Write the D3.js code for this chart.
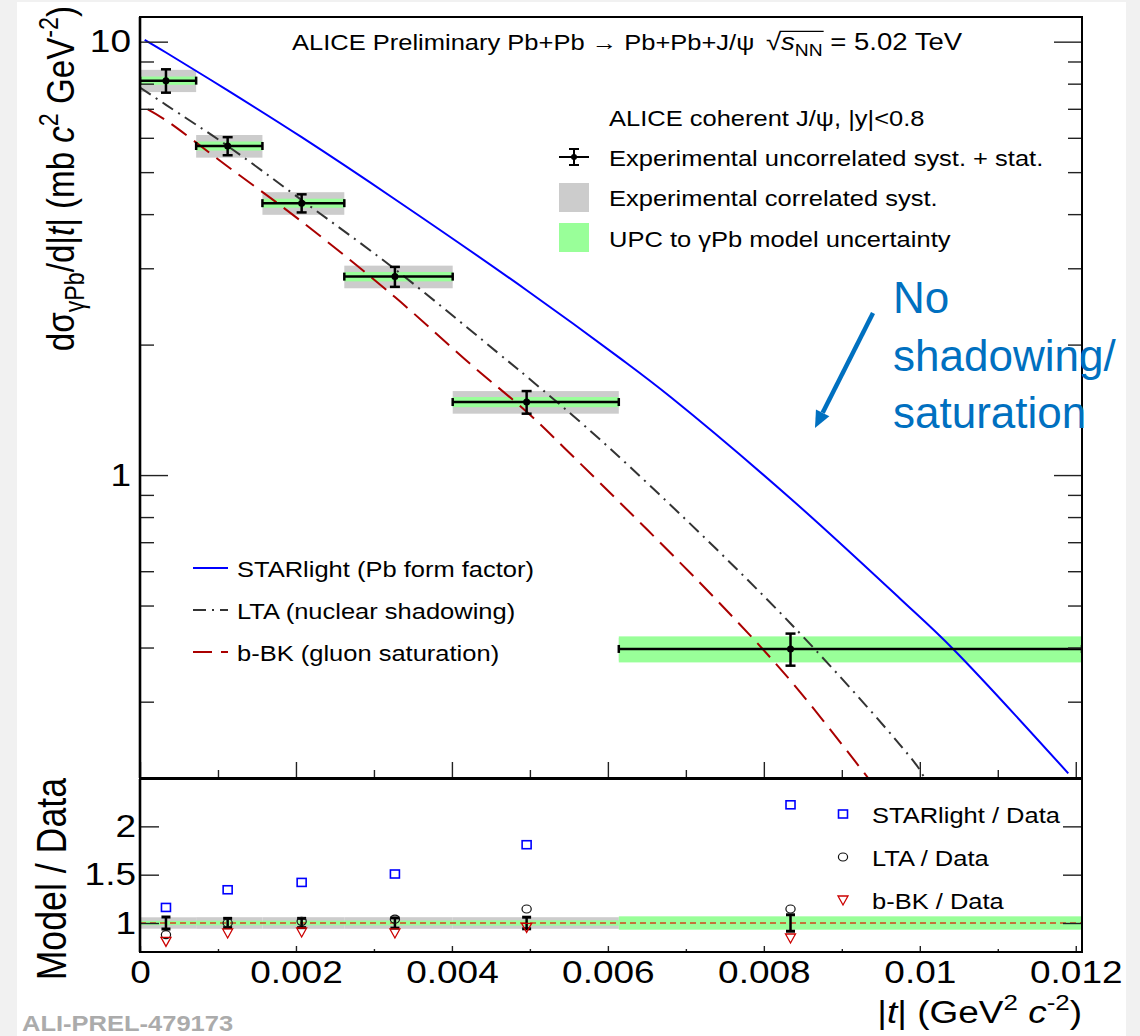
<!DOCTYPE html>
<html>
<head>
<meta charset="utf-8">
<title>Coherent J/psi photoproduction vs |t|</title>
<script src="https://cdn.jsdelivr.net/npm/d3@7"></script>
<style>
  html, body { margin: 0; padding: 0; background: #f1f1f1; }
  svg { display: block; }
  text { font-family: "Liberation Sans", Arial, Helvetica, sans-serif; white-space: pre; }
</style>
</head>
<body>
<svg id="chart" width="1140" height="1036"></svg>
<script>
// ---------------- data ----------------
// |t| bins (GeV^2 c^-2): mean |t| of each bin and the bin edges
const tMean = [0.000333, 0.001124, 0.002073, 0.003269, 0.004958, 0.008342];
const tLow  = [0.0,      0.00072,  0.00157,  0.00262,  0.00401,  0.00614];
const tHigh = [0.00072,  0.00157,  0.00262,  0.00401,  0.00614,  0.01208];

// measured dsigma/d|t| (mb c^2 GeV^-2) and relative uncertainties
const sigma     = [8.13, 5.745, 4.24, 2.87, 1.474, 0.397];
const uncorrErr = [0.062, 0.048, 0.048, 0.053, 0.060, 0.085];
const corrSyst  = [0.059, 0.060, 0.060, 0.060, 0.060, 0.060];
const modelUnc  = [0.022, 0.024, 0.024, 0.025, 0.027, 0.069];

// model predictions
const starT = [0.00006, 0.000333, 0.001124, 0.002073, 0.003269, 0.004958, 0.00615, 0.0068, 0.008342, 0.009765, 0.010427, 0.011904];
const starV = [10.1,    9.44,     7.72,     6.02,     4.33,     2.67,     1.864,   1.516,  0.883,    0.515,    0.397,    0.205];
const ltaT  = [0.0,  0.000333, 0.001124, 0.002073, 0.003269, 0.004701, 0.004958, 0.006026, 0.008342, 0.009958, 0.01006];
const ltaV  = [7.84, 7.15,     5.745,    4.31,     2.985,    1.843,    1.688,    1.152,    0.4546,   0.2141,   0.2];
const bbkT  = [0.0001, 0.000333, 0.001124, 0.002073, 0.003269, 0.004252, 0.004958, 0.005449, 0.007394, 0.008342, 0.009337];
const bbkV  = [6.98,   6.585,    5.153,    3.846,    2.574,    1.794,    1.40,     1.152,    0.515,    0.3355,   0.2];

// model / data ratios at the bin means
const ratioStar = [1.161, 1.344, 1.420, 1.507, 1.810, 2.223];
const ratioLta  = [0.879, 1.000, 1.017, 1.040, 1.145, 1.145];
const ratioBbk  = [0.810, 0.897, 0.907, 0.897, 0.955, 0.845];

// axis ticks
const xMajor  = [0, 0.002, 0.004, 0.006, 0.008, 0.01, 0.012];
const xMinor  = [0.001, 0.003, 0.005, 0.007, 0.009, 0.011];
const xLabels = ["0", "0.002", "0.004", "0.006", "0.008", "0.01", "0.012"];
const yMajor  = [1, 10];
const yMinor  = [0.2, 0.3, 0.4, 0.5, 0.6, 0.7, 0.8, 0.9, 2, 3, 4, 5, 6, 7, 8, 9];
const rMajor  = [1, 1.5, 2];

// ---------------- layout ----------------
const L = 140, R = 1082;          // plot frame left / right
const T = 17,  B = 778;           // upper pad frame
const RT = 779, RB = 952;         // ratio pad frame
const SQ = 0.85;                  // vertical text compression
const FONT_TICK = 37, FONT_LEG = 25.5;

const svg = d3.select("#chart");
svg.append("rect").attr("x", 17).attr("y", 2).attr("width", 1109).attr("height", 1034).attr("fill", "#fff");

const x  = d3.scaleLinear().domain([0, 0.01208]).range([L, R]);
const y  = d3.scaleLog().domain([0.2, 11.4]).range([B, T]);
const yr = d3.scaleLinear().domain([0.7, 2.49]).range([RB, RT]);

const defs = svg.append("defs");
defs.append("clipPath").attr("id", "clipTop").append("rect")
  .attr("x", L).attr("y", T).attr("width", R - L).attr("height", B - T);
defs.append("clipPath").attr("id", "clipRatio").append("rect")
  .attr("x", L).attr("y", RT).attr("width", R - L).attr("height", RB - RT);

// text with italic / sub / superscript pieces
function rich(parent, px, py, size, anchor, segs, rotate) {
  const t = parent.append("text")
    .attr("transform", `translate(${px},${py}) scale(1,${SQ})${rotate ? " rotate(-90)" : ""}`)
    .attr("text-anchor", anchor).attr("font-size", size).style("fill", "#000");
  let cur = 0;
  for (const s of segs) {
    const seg = typeof s === "string" ? { t: s } : s;
    const off = seg.sub ? 0.25 * size : seg.sup ? -0.42 * size : 0;
    const ts = t.append("tspan").attr("dy", off - cur).text(seg.t);
    cur = off;
    if (seg.sub || seg.sup) ts.attr("font-size", 0.7 * size);
    if (seg.it) ts.attr("font-style", "italic");
  }
  return t;
}

const bins = d3.range(tMean.length);

// ================= upper pad =================
const upper = svg.append("g");

// correlated systematic boxes
upper.append("g").attr("clip-path", "url(#clipTop)").selectAll("rect").data(bins).join("rect")
  .attr("x", i => x(tLow[i])).attr("width", i => x(tHigh[i]) - x(tLow[i]))
  .attr("y", i => y(sigma[i] * (1 + corrSyst[i])))
  .attr("height", i => y(sigma[i] * (1 - corrSyst[i])) - y(sigma[i] * (1 + corrSyst[i])))
  .attr("fill", "#cccccc");
// UPC -> gamma Pb model uncertainty boxes
upper.append("g").attr("clip-path", "url(#clipTop)").selectAll("rect").data(bins).join("rect")
  .attr("x", i => x(tLow[i])).attr("width", i => x(tHigh[i]) - x(tLow[i]))
  .attr("y", i => y(sigma[i] * (1 + modelUnc[i])))
  .attr("height", i => y(sigma[i] * (1 - modelUnc[i])) - y(sigma[i] * (1 + modelUnc[i])))
  .attr("fill", "#99ff99");

// model curves
const line = d3.line().x(d => x(d[0])).y(d => y(d[1])).curve(d3.curveCatmullRom.alpha(0.5));
const curves = upper.append("g").attr("clip-path", "url(#clipTop)").attr("fill", "none");
const modelStyles = [
  { t: starT, v: starV, color: "#0000ff", dash: null },
  { t: ltaT,  v: ltaV,  color: "#333333", dash: "13,6,2,6" },
  { t: bbkT,  v: bbkV,  color: "#aa0000", dash: "19,9" }
];
modelStyles.forEach(m => {
  curves.append("path").datum(d3.zip(m.t, m.v)).attr("d", line)
    .attr("stroke", m.color).attr("stroke-width", 2)
    .attr("stroke-dasharray", m.dash);
});

// data points with uncorrelated syst + stat errors
const pts = upper.append("g").attr("clip-path", "url(#clipTop)").attr("stroke", "#000").attr("stroke-width", 2.5);
bins.forEach(i => {
  const cx = x(tMean[i]), cy = y(sigma[i]);
  const yHi = y(sigma[i] * (1 + uncorrErr[i])), yLo = y(sigma[i] * (1 - uncorrErr[i]));
  const xa = x(tLow[i]), xb = x(tHigh[i]);
  pts.append("line").attr("x1", xa).attr("x2", xb).attr("y1", cy).attr("y2", cy);
  pts.append("line").attr("x1", xa).attr("x2", xa).attr("y1", cy - 4).attr("y2", cy + 4);
  pts.append("line").attr("x1", xb).attr("x2", xb).attr("y1", cy - 4).attr("y2", cy + 4);
  pts.append("line").attr("x1", cx).attr("x2", cx).attr("y1", yHi).attr("y2", yLo);
  pts.append("line").attr("x1", cx - 5).attr("x2", cx + 5).attr("y1", yHi).attr("y2", yHi);
  pts.append("line").attr("x1", cx - 5).attr("x2", cx + 5).attr("y1", yLo).attr("y2", yLo);
  pts.append("circle").attr("cx", cx).attr("cy", cy).attr("r", 3.5).attr("fill", "#000").attr("stroke", "none");
});

// axes of the upper pad
function styleAxis(g) {
  g.select(".domain").remove();
  g.selectAll(".tick line").attr("stroke", "#222").attr("stroke-width", 1.4);
}
function styleLabels(g) {
  g.selectAll("text").attr("font-size", FONT_TICK).attr("font-family", null)
    .style("fill", "#000").attr("transform", `scale(1,${SQ})`);
}
upper.append("g").attr("transform", `translate(${L},0)`)
  .call(d3.axisLeft(y).tickValues(yMinor).tickSize(-14).tickFormat("")).call(styleAxis);
upper.append("g").attr("transform", `translate(${L},0)`)
  .call(d3.axisLeft(y).tickValues(yMajor).tickSize(-28).tickPadding(9).tickFormat(d3.format("d")))
  .call(styleAxis).call(styleLabels);
upper.append("g").attr("transform", `translate(${R},0)`)
  .call(d3.axisRight(y).tickValues(yMinor).tickSize(-14).tickFormat("")).call(styleAxis);
upper.append("g").attr("transform", `translate(${R},0)`)
  .call(d3.axisRight(y).tickValues(yMajor).tickSize(-28).tickFormat("")).call(styleAxis);
upper.append("g").attr("transform", `translate(0,${B})`)
  .call(d3.axisBottom(x).tickValues(xMinor).tickSize(-8).tickFormat("")).call(styleAxis);
upper.append("g").attr("transform", `translate(0,${B})`)
  .call(d3.axisBottom(x).tickValues(xMajor).tickSize(-16).tickFormat("")).call(styleAxis);

upper.append("rect").attr("x", L).attr("y", T).attr("width", R - L).attr("height", B - T)
  .attr("fill", "none").attr("stroke", "#000").attr("stroke-width", 2);
upper.append("line").attr("x1", L).attr("x2", L).attr("y1", T).attr("y2", B)
  .attr("stroke", "#000").attr("stroke-width", 2.6);

// y-axis title
rich(upper, 74, 6, 39, "end", [
  "dσ", { t: "γPb", sub: true }, "/d|", { t: "t", it: true }, "| (mb ",
  { t: "c", it: true }, { t: "2", sup: true }, " GeV", { t: "-2", sup: true }, ")"
], true);

// header line
const head = upper.append("g");
rich(head, 292, 50, FONT_LEG, "start", ["ALICE Preliminary Pb+Pb → Pb+Pb+J/ψ"]);
const HEAD2 = 27.5, radX = 766;
const rad = rich(head, radX, 50, HEAD2, "start", ["√"]);
const radW = rad.node().getComputedTextLength();
const sPart = rich(head, radX + radW, 50, HEAD2, "start", [{ t: "s", it: true }, { t: "NN", sub: true }]);
const sW = sPart.node().getComputedTextLength();
head.append("line").attr("x1", radX + radW - 1.5).attr("x2", radX + radW + sW + 1)
  .attr("y1", 50 - 0.8 * HEAD2 * SQ).attr("y2", 50 - 0.8 * HEAD2 * SQ)
  .attr("stroke", "#000").attr("stroke-width", 1.2);
rich(head, radX + radW + sW, 50, HEAD2, "start", [" = 5.02 TeV"]);

// data legend (upper right)
const leg = upper.append("g");
const legX = 609, boxL = 559, boxR = 589;
rich(leg, legX, 126, FONT_LEG, "start", ["ALICE coherent J/ψ, |y|<0.8"]);
const eb = leg.append("g").attr("stroke", "#000").attr("stroke-width", 2);
const ebx = (boxL + boxR) / 2, eby = 157;
eb.append("line").attr("x1", boxL).attr("x2", boxR).attr("y1", eby).attr("y2", eby);
eb.append("line").attr("x1", ebx).attr("x2", ebx).attr("y1", eby - 8).attr("y2", eby + 8);
eb.append("line").attr("x1", ebx - 5).attr("x2", ebx + 5).attr("y1", eby - 8).attr("y2", eby - 8);
eb.append("line").attr("x1", ebx - 5).attr("x2", ebx + 5).attr("y1", eby + 8).attr("y2", eby + 8);
leg.append("circle").attr("cx", ebx).attr("cy", eby).attr("r", 3).attr("fill", "#000");
rich(leg, legX, 166, FONT_LEG, "start", ["Experimental uncorrelated syst. + stat."]);
leg.append("rect").attr("x", boxL).attr("y", 183).attr("width", boxR - boxL).attr("height", 29).attr("fill", "#cccccc");
rich(leg, legX, 206, FONT_LEG, "start", ["Experimental correlated syst."]);
leg.append("rect").attr("x", boxL).attr("y", 223).attr("width", boxR - boxL).attr("height", 29).attr("fill", "#99ff99");
rich(leg, legX, 247, FONT_LEG, "start", ["UPC to ", { t: "γ", sub: false }, "Pb model uncertainty"]);

// model legend (left)
const mleg = upper.append("g");
const modelNames = ["STARlight (Pb form factor)", "LTA (nuclear shadowing)", "b-BK (gluon saturation)"];
modelStyles.forEach((m, k) => {
  const ly = 568 + k * 42;
  mleg.append("line").attr("x1", 193).attr("x2", 228).attr("y1", ly).attr("y2", ly)
    .attr("stroke", m.color).attr("stroke-width", 2).attr("stroke-dasharray", m.dash);
  rich(mleg, 237, ly + 9, FONT_LEG, "start", [modelNames[k]]);
});

// ================= ratio pad =================
const rat = svg.append("g");
rat.append("g").attr("clip-path", "url(#clipRatio)").selectAll("rect").data(bins).join("rect")
  .attr("x", i => x(tLow[i])).attr("width", i => x(tHigh[i]) - x(tLow[i]))
  .attr("y", i => yr(1 + corrSyst[i])).attr("height", i => yr(1 - corrSyst[i]) - yr(1 + corrSyst[i]))
  .attr("fill", "#cccccc");
rat.append("g").attr("clip-path", "url(#clipRatio)").selectAll("rect").data(bins).join("rect")
  .attr("x", i => x(tLow[i])).attr("width", i => x(tHigh[i]) - x(tLow[i]))
  .attr("y", i => yr(1 + modelUnc[i])).attr("height", i => yr(1 - modelUnc[i]) - yr(1 + modelUnc[i]))
  .attr("fill", "#99ff99");
rat.append("line").attr("x1", L).attr("x2", R).attr("y1", yr(1)).attr("y2", yr(1))
  .attr("stroke", "#d2451e").attr("stroke-width", 1.3).attr("stroke-dasharray", "6,4");

const rErr = rat.append("g").attr("stroke", "#000").attr("stroke-width", 2.5);
bins.forEach(i => {
  const cx = x(tMean[i]);
  const yHi = yr(1 + uncorrErr[i]), yLo = yr(1 - uncorrErr[i]);
  rErr.append("line").attr("x1", cx).attr("x2", cx).attr("y1", yHi).attr("y2", yLo);
  rErr.append("line").attr("x1", cx - 4.5).attr("x2", cx + 4.5).attr("y1", yHi).attr("y2", yHi).attr("stroke-width", 3);
  rErr.append("line").attr("x1", cx - 4.5).attr("x2", cx + 4.5).attr("y1", yLo).attr("y2", yLo).attr("stroke-width", 3);
});

// ratio markers
const sqMark = (g, cx, cy) => g.append("rect").attr("x", cx - 4.5).attr("y", cy - 4).attr("width", 9).attr("height", 8)
  .attr("fill", "none").attr("stroke", "#0000ff").attr("stroke-width", 1.6);
const ciMark = (g, cx, cy) => g.append("ellipse").attr("cx", cx).attr("cy", cy).attr("rx", 4.6).attr("ry", 4)
  .attr("fill", "none").attr("stroke", "#111").attr("stroke-width", 1.2);
const trMark = (g, cx, cy) => g.append("path")
  .attr("d", `M${cx - 5},${cy - 4}L${cx + 5},${cy - 4}L${cx},${cy + 5}Z`)
  .attr("fill", "none").attr("stroke", "#cc0000").attr("stroke-width", 1.3);
const marks = rat.append("g");
bins.forEach(i => {
  sqMark(marks, x(tMean[i]), yr(ratioStar[i]));
  ciMark(marks, x(tMean[i]), yr(ratioLta[i]));
  trMark(marks, x(tMean[i]), yr(ratioBbk[i]));
});

// ratio axes
rat.append("g").attr("transform", `translate(0,${RB})`)
  .call(d3.axisBottom(x).tickValues(xMinor).tickSize(-3).tickFormat("")).call(styleAxis);
rat.append("g").attr("transform", `translate(0,${RB})`)
  .call(d3.axisBottom(x).tickValues(xMajor).tickSize(-6).tickPadding(10).tickFormat((d, k) => xLabels[k]))
  .call(styleAxis).call(styleLabels);
rat.append("g").attr("transform", `translate(${L},0)`)
  .call(d3.axisLeft(yr).tickValues(rMajor).tickSize(-19).tickPadding(4).tickFormat(d => String(d)))
  .call(styleAxis).call(styleLabels);
rat.append("g").attr("transform", `translate(${R},0)`)
  .call(d3.axisRight(yr).tickValues(rMajor).tickSize(-19).tickFormat("")).call(styleAxis);

rat.append("rect").attr("x", L).attr("y", RT).attr("width", R - L).attr("height", RB - RT)
  .attr("fill", "none").attr("stroke", "#000").attr("stroke-width", 2);
rat.append("line").attr("x1", L).attr("x2", L).attr("y1", RT).attr("y2", RB)
  .attr("stroke", "#000").attr("stroke-width", 2.6);

// ratio legend
const rleg = rat.append("g");
const ratioNames = ["STARlight / Data", "LTA / Data", "b-BK / Data"];
[sqMark, ciMark, trMark].forEach((fn, k) => {
  const ly = 814 + k * 43;
  fn(rleg, 843, ly);
  rich(rleg, 872, ly + 9, FONT_LEG, "start", [ratioNames[k]]);
});

// axis titles
rich(rat, 66, 778, 42, "end", ["Model / Data"], true);
rich(svg, R, 1023, 37, "end", [
  "|", { t: "t", it: true }, "| (GeV", { t: "2", sup: true }, " ", { t: "c", it: true }, { t: "-2", sup: true }, ")"
]);

// preliminary figure tag
svg.append("text")
  .attr("transform", `translate(22,1031) scale(1,${SQ})`)
  .attr("font-family", "'Liberation Mono', 'DejaVu Sans Mono', monospace")
  .attr("font-weight", "bold").attr("font-size", 25.5)
  .style("fill", "#ababab")
  .text("ALI-PREL-479173");

// annotation: model without nuclear effects
const note = svg.append("g");
const tip = [815, 428], tail = [873, 313];
const ang = Math.atan2(tip[1] - tail[1], tip[0] - tail[0]);
const headLen = 17, headHalf = 7.5;
const base = [tip[0] - headLen * Math.cos(ang), tip[1] - headLen * Math.sin(ang)];
note.append("line").attr("x1", tail[0]).attr("y1", tail[1]).attr("x2", base[0]).attr("y2", base[1])
  .attr("stroke", "#0070c0").attr("stroke-width", 4.5);
note.append("path")
  .attr("d", `M${tip[0]},${tip[1]}L${base[0] + headHalf * Math.sin(ang)},${base[1] - headHalf * Math.cos(ang)}` +
             `L${base[0] - headHalf * Math.sin(ang)},${base[1] + headHalf * Math.cos(ang)}Z`)
  .attr("fill", "#0070c0");
["No", "shadowing/", "saturation"].forEach((s, k) => {
  note.append("text").attr("x", 893).attr("y", [313, 371, 428][k])
    .attr("font-family", "Lato, 'Open Sans', sans-serif").attr("font-size", 44)
    .style("fill", "#0070c0").text(s);
});
</script>
</body>
</html>
